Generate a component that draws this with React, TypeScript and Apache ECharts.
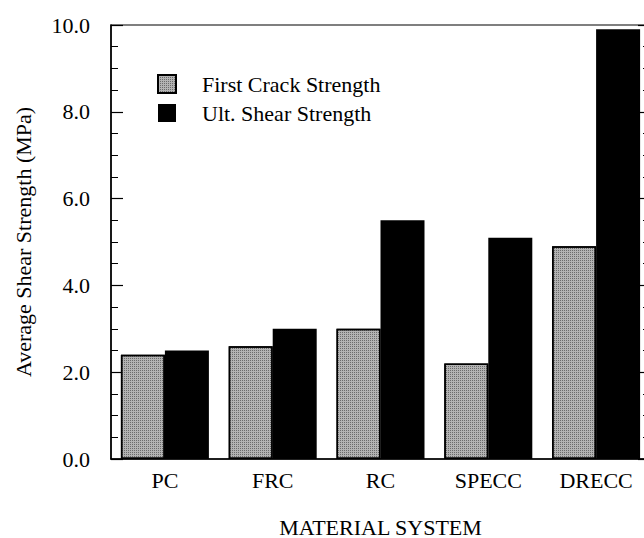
import React, { useEffect, useRef } from "react";
import * as echarts from "echarts";

const categories = ["PC", "FRC", "RC", "SPECC", "DRECC"];
const firstCrack = [2.4, 2.6, 3.0, 2.2, 4.9];
const ultShear = [2.5, 3.0, 5.5, 5.1, 9.9];
const seriesNames = ["First Crack Strength", "Ult. Shear Strength"];

const FONT = "'Liberation Serif', 'Times New Roman', serif";

export default function App() {
  const ref = useRef<HTMLDivElement>(null);
  useEffect(() => {
    if (!ref.current) return;
    const chart = echarts.init(ref.current, undefined, { renderer: "svg" });
    const yCommon = {
      type: "value" as const,
      min: 0,
      max: 10,
      interval: 2,
      splitLine: { show: false },
      axisLine: { show: true, lineStyle: { color: "#000", width: 1.5 } },
      axisTick: { show: true, inside: true, length: 12, lineStyle: { color: "#000", width: 1.2 } },
      minorTick: { show: true, splitNumber: 4, length: 7, lineStyle: { color: "#000", width: 1 } },
    };
    chart.setOption({
      animation: false,
      backgroundColor: "#fff",
      textStyle: { fontFamily: FONT, color: "#000" },
      grid: {
        left: 111,
        right: -6,
        top: 25,
        bottom: 79,
        show: true,
        borderColor: "#000",
        borderWidth: 1.2,
        containLabel: false,
        outerBoundsMode: "none",
      },
      legend: {
        orient: "vertical",
        left: 157,
        top: 73,
        padding: 0,
        itemWidth: 18,
        itemHeight: 18,
        itemGap: 7,
        icon: "rect",
        data: seriesNames,
        textStyle: {
          fontFamily: FONT,
          fontSize: 22,
          lineHeight: 18,
          color: "#000",
          padding: [0, 0, 0, 21],
        },
      },
      xAxis: {
        type: "category",
        data: categories,
        name: "MATERIAL SYSTEM",
        nameLocation: "middle",
        nameGap: 57,
        nameTextStyle: { fontFamily: FONT, fontSize: 22, color: "#000" },
        axisLine: { show: true, lineStyle: { color: "#000", width: 1.5 } },
        axisTick: { show: false },
        axisLabel: { fontFamily: FONT, fontSize: 22, color: "#000", margin: 10 },
      },
      yAxis: [
        {
          ...yCommon,
          position: "left",
          name: "Average Shear Strength (MPa)",
          nameLocation: "middle",
          nameGap: 77,
          nameTextStyle: { fontFamily: FONT, fontSize: 22, color: "#000" },
          axisLabel: {
            fontFamily: FONT,
            fontSize: 22,
            color: "#000",
            margin: 21,
            formatter: (v: number) => v.toFixed(1),
          },
        },
        {
          ...yCommon,
          position: "right",
          axisLabel: { show: false },
        },
      ],
      series: [
        {
          name: seriesNames[0],
          type: "bar",
          data: firstCrack,
          barWidth: 44,
          barGap: "0%",
          itemStyle: {
            color: "#b3b3b3",
            borderColor: "#000",
            borderWidth: 1.5,
            decal: {
              symbol: "rect",
              symbolSize: 1,
              color: "rgba(0,0,0,0.4)",
              dashArrayX: [1, 1],
              dashArrayY: [1, 1],
              rotation: 0,
            },
          },
        },
        {
          name: seriesNames[1],
          type: "bar",
          data: ultShear,
          barWidth: 44,
          barGap: "0%",
          itemStyle: { color: "#000", borderColor: "#000", borderWidth: 0 },
        },
      ],
    });
    return () => chart.dispose();
  }, []);
  return (
    <div
      ref={ref}
      style={{ position: "fixed", left: 0, top: 0, width: 644, height: 538, background: "#fff" }}
    />
  );
}
